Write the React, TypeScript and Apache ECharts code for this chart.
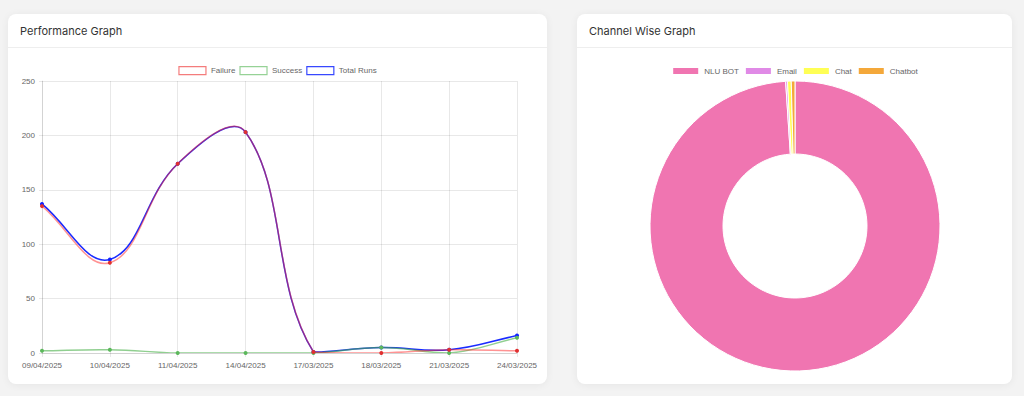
import React, { useEffect, useRef } from "react";
import * as echarts from "echarts";

const dates = ["09/04/2025", "10/04/2025", "11/04/2025", "14/04/2025", "17/03/2025", "18/03/2025", "21/03/2025", "24/03/2025"];
const failure = [135, 83, 174, 203, 1, 0, 3, 2];
const success = [2, 3, 0, 0, 0, 5, 0, 14];
const totalRuns = [137, 86, 174, 203, 1, 5, 3, 16];
const yMin = 0;
const yMax = 250;
const yStep = 50;

const channels = ["NLU BOT", "Email", "Chat", "Chatbot"];
const channelValues = [480, 1, 2, 2];
const channelColors = ["#f075b1", "#e08ae6", "#ffff55", "#f4a83a"];

const FONT = "'Liberation Sans', Arial, Helvetica, sans-serif";
const TENSION = 0.4;

// Chart.js-like spline through the points given by the axes
function splinePath(values: number[], api: any, area: any): string {
  const pts = values.map((v, i) => api.coord([i, v]) as number[]);
  const n = pts.length;
  const cps: { p: number[]; n: number[] }[] = [];
  const clampX = (x: number) => Math.min(Math.max(x, area.x), area.x + area.width);
  const clampY = (y: number) => Math.min(Math.max(y, area.y), area.y + area.height);
  for (let i = 0; i < n; i++) {
    const prev = pts[Math.max(0, i - 1)];
    const cur = pts[i];
    const next = pts[Math.min(n - 1, i + 1)];
    const d01 = Math.hypot(cur[0] - prev[0], cur[1] - prev[1]);
    const d12 = Math.hypot(next[0] - cur[0], next[1] - cur[1]);
    let s01 = d01 / (d01 + d12);
    let s12 = d12 / (d01 + d12);
    if (isNaN(s01)) s01 = 0;
    if (isNaN(s12)) s12 = 0;
    const fa = TENSION * s01;
    const fb = TENSION * s12;
    cps.push({
      p: [clampX(cur[0] - fa * (next[0] - prev[0])), clampY(cur[1] - fa * (next[1] - prev[1]))],
      n: [clampX(cur[0] + fb * (next[0] - prev[0])), clampY(cur[1] + fb * (next[1] - prev[1]))],
    });
  }
  let d = `M${pts[0][0]},${pts[0][1]}`;
  for (let i = 1; i < n; i++) {
    const a = cps[i - 1].n;
    const b = cps[i].p;
    d += ` C${a[0]},${a[1]} ${b[0]},${b[1]} ${pts[i][0]},${pts[i][1]}`;
  }
  return d;
}

function curveSeries(values: number[], color: string, z: number) {
  return {
    type: "custom",
    data: [0],
    z,
    silent: true,
    clip: true,
    renderItem: (params: any, api: any) => ({
      type: "path",
      shape: { pathData: splinePath(values, api, params.coordSys) },
      style: { fill: "none", stroke: color, lineWidth: 1.5 },
    }),
  };
}

function markerSeries(name: string, values: number[], color: string, z: number) {
  return {
    name,
    type: "line",
    data: values,
    z,
    symbol: "circle",
    symbolSize: 4,
    showSymbol: true,
    lineStyle: { width: 0, opacity: 0 },
    itemStyle: { color },
  };
}

function PerfChart() {
  const ref = useRef<HTMLDivElement>(null);
  useEffect(() => {
    const chart = echarts.init(ref.current!, null, { renderer: "svg" });
    const gridColor = "rgba(0,0,0,0.09)";
    chart.setOption({
      animation: false,
      textStyle: { fontFamily: FONT },
      legend: {
        top: 18,
        left: "center",
        padding: 0,
        icon: "rect",
        itemWidth: 27,
        itemHeight: 8,
        itemGap: 4,
        textStyle: { fontSize: 8, color: "#666", fontFamily: FONT },
        data: [
          { name: "Failure", itemStyle: { color: "#fff", borderColor: "rgba(240,80,80,0.75)", borderWidth: 1.2 } },
          { name: "Success", itemStyle: { color: "#fff", borderColor: "rgba(80,180,80,0.6)", borderWidth: 1.2 } },
          { name: "Total Runs", itemStyle: { color: "#fff", borderColor: "rgba(20,40,255,0.85)", borderWidth: 1.2 } },
        ],
      },
      grid: { left: 34, right: 30, top: 33, bottom: 31, containLabel: false },
      xAxis: {
        type: "category",
        data: dates,
        boundaryGap: false,
        axisLine: { lineStyle: { color: gridColor } },
        axisTick: { show: true, length: 4, lineStyle: { color: gridColor } },
        splitLine: { show: true, lineStyle: { color: gridColor } },
        axisLabel: { fontSize: 8, color: "#666", margin: 8, fontFamily: FONT, interval: 0 },
      },
      yAxis: {
        type: "value",
        min: yMin,
        max: yMax,
        interval: yStep,
        axisLine: { show: true, lineStyle: { color: gridColor } },
        axisTick: { show: true, length: 3, lineStyle: { color: gridColor } },
        splitLine: { show: true, lineStyle: { color: gridColor } },
        axisLabel: { fontSize: 8, color: "#666", margin: 7, fontFamily: FONT },
      },
      series: [
        curveSeries(totalRuns, "rgba(0,20,255,0.9)", 2),
        markerSeries("Total Runs", totalRuns, "#1020ff", 3),
        curveSeries(success, "rgba(70,175,70,0.6)", 4),
        markerSeries("Success", success, "#5cb85c", 5),
        curveSeries(failure, "rgba(255,40,40,0.5)", 6),
        markerSeries("Failure", failure, "#e03030", 7),
      ],
    });
    return () => chart.dispose();
  }, []);
  return <div ref={ref} style={{ width: 539, height: 336 }} />;
}

function ChannelChart() {
  const ref = useRef<HTMLDivElement>(null);
  useEffect(() => {
    const chart = echarts.init(ref.current!, null, { renderer: "svg" });
    chart.setOption({
      animation: false,
      textStyle: { fontFamily: FONT },
      color: channelColors,
      legend: {
        top: 18,
        left: "center",
        padding: 0,
        icon: "rect",
        itemWidth: 27,
        itemHeight: 8,
        itemGap: 5,
        textStyle: { fontSize: 8, color: "#666", fontFamily: FONT },
        data: channels,
      },
      series: [
        {
          type: "pie",
          center: [218, 178],
          radius: [72, 145],
          startAngle: 90,
          clockwise: true,
          label: { show: false },
          labelLine: { show: false },
          itemStyle: { borderColor: "#fff", borderWidth: 1 },
          data: channels.map((n, i) => ({ name: n, value: channelValues[i] })),
        },
      ],
    });
    return () => chart.dispose();
  }, []);
  return <div ref={ref} style={{ width: 435, height: 336 }} />;
}

const cardStyle: React.CSSProperties = {
  position: "absolute",
  top: 14,
  height: 370,
  background: "#fff",
  borderRadius: 8,
  boxShadow: "0 1px 8px rgba(0,0,0,0.06)",
  overflow: "hidden",
};

const headerStyle: React.CSSProperties = {
  height: 33,
  borderBottom: "1px solid #eeeeee",
  paddingLeft: 12,
  display: "flex",
  alignItems: "center",
  fontFamily: "Inter, 'Open Sans', sans-serif",
  fontSize: 11,
  color: "#333",
  boxSizing: "content-box",
};

export default function App() {
  return (
    <div style={{ position: "fixed", left: 0, top: 0, width: 1024, height: 396, background: "#f3f3f3", overflow: "hidden" }}>
      <div style={{ ...cardStyle, left: 8, width: 539 }}>
        <div style={headerStyle}>Performance Graph</div>
        <PerfChart />
      </div>
      <div style={{ ...cardStyle, left: 577, width: 435 }}>
        <div style={headerStyle}>Channel Wise Graph</div>
        <ChannelChart />
      </div>
    </div>
  );
}
